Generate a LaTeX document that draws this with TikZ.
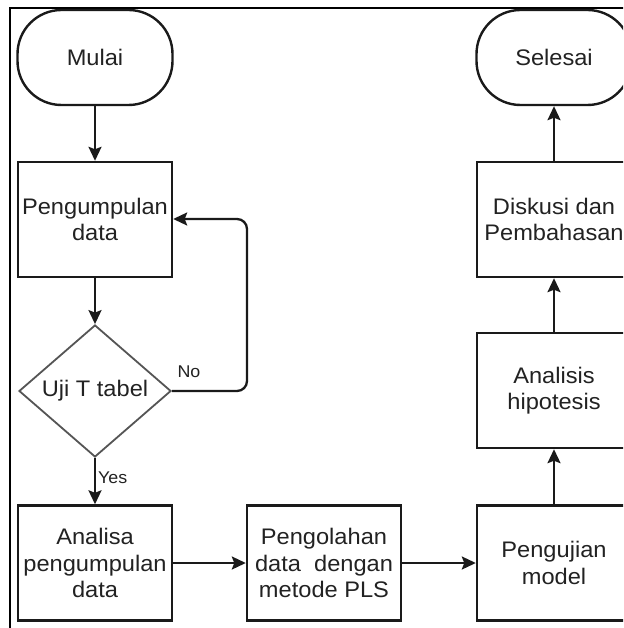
\documentclass[tikz,border=0pt]{standalone}
\usepackage{fontspec}
\setmainfont{Liberation Sans}[FakeStretch=1.05]
\usetikzlibrary{shapes.geometric,arrows.meta}
\definecolor{txt}{HTML}{222222}
\definecolor{ln}{HTML}{1A1A1A}
\definecolor{dia}{HTML}{555555}
\tikzset{
  base/.style={draw=ln, line width=2.4pt, text=txt, align=center, inner sep=0pt,
    font=\fontsize{22.5}{26.5}\selectfont},
  term/.style={base, rounded corners=44pt, minimum width=155pt, minimum height=95pt},
  proc/.style={base, rectangle, minimum width=154pt, minimum height=115pt},
  decis/.style={base, diamond, draw=dia, line width=1.8pt, minimum width=152pt, minimum height=132pt},
  conn/.style={draw=ln, line width=2.3pt, -{Stealth[length=14pt, width=13pt, inset=2.5pt]}},
  lbl/.style={text=txt, inner sep=0pt, font=\fontsize{17}{18}\selectfont},
  frame/.style={draw=black, line width=2.8pt}
}
\begin{document}
\begin{tikzpicture}[x=1pt, y=-1pt]
\useasboundingbox (0,0) rectangle (623,628);
\clip (0,0) rectangle (623,628);
\fill[white] (0,0) rectangle (623,628);
% frame
\coordinate (fa) at (10,8);
\coordinate (fb) at (630,8);
\coordinate (fc) at (10,640);
\draw[frame] (fb) -- (fa) -- (fc);
% nodes
\node[term] (mulai) at (95,57.5) {Mulai};
\node[proc] (peng) at (95,219.5) {Pengumpulan\\data};
\node[decis] (uji) at (95,391) {Uji T tabel};
\node[proc] (analisa) at (95,563) {Analisa\\pengumpulan\\data};
\node[proc] (olah) at (324,563) {Pengolahan\\data\ \ dengan\\metode PLS};
\node[proc] (uji2) at (554,563) {Pengujian\\model};
\node[proc] (hipo) at (554,390.5) {Analisis\\hipotesis};
\node[proc] (disk) at (554,219.5) {Diskusi dan\\Pembahasan};
\node[term] (selesai) at (554,57.5) {Selesai};
% connectors
\coordinate (loop) at (247,219);
\draw[conn] (mulai) -- (peng);
\draw[conn] (peng) -- (uji);
\draw[conn, rounded corners=10pt] (uji.east) -| (loop) -- (peng.east |- loop);
\draw[conn] (uji) -- (analisa);
\draw[conn] (analisa) -- (olah);
\draw[conn] (olah) -- (uji2);
\draw[conn] (uji2) -- (hipo);
\draw[conn] (hipo) -- (disk);
\draw[conn] (disk) -- (selesai);
% labels
\node[lbl] (no) at (189,372) {No};
\node[lbl, anchor=west] (yes) at (98,478) {Yes};
\end{tikzpicture}
\end{document}
